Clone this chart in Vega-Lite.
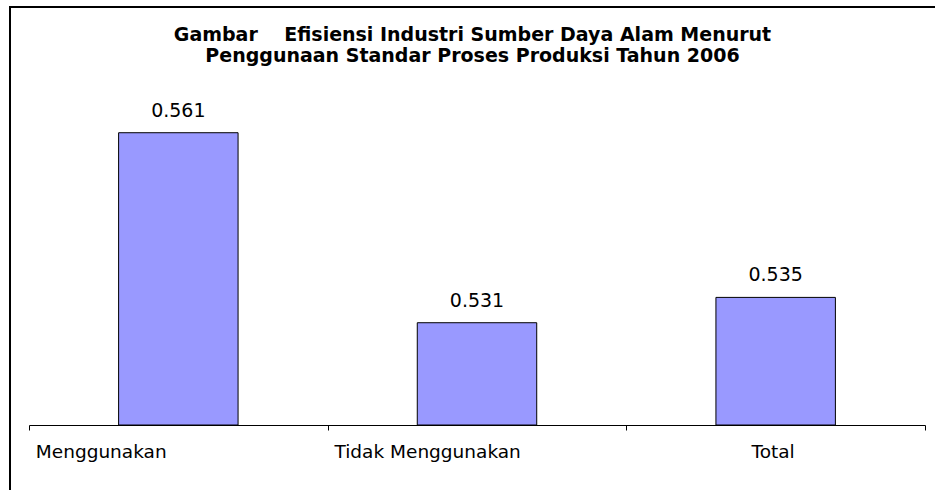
{
  "$schema": "https://vega.github.io/schema/vega-lite/v6.json",
  "width": 925,
  "height": 483,
  "autosize": {"type": "none"},
  "padding": {"left": 10, "top": 7, "right": 0, "bottom": 0},
  "background": "white",
  "config": {
    "view": {"stroke": "black", "strokeWidth": 2, "strokeDash": [925, 1408, 483]}
  },
  "title": {
    "text": ["Gambar\u00a0\u00a0\u00a0 Efisiensi Industri Sumber Daya Alam Menurut", "Penggunaan Standar Proses Produksi Tahun 2006"],
    "anchor": "middle",
    "frame": "group",
    "font": "DejaVu Sans",
    "fontSize": 19,
    "fontWeight": "bold",
    "color": "black",
    "lineHeight": 21,
    "baseline": "alphabetic",
    "offset": -74
  },
  "data": {
    "values": [
      {"kategori": "Menggunakan", "nilai": 0.561},
      {"kategori": "Tidak Menggunakan", "nilai": 0.531},
      {"kategori": "Total", "nilai": 0.535}
    ]
  },
  "encoding": {
    "x": {
      "field": "kategori",
      "type": "nominal",
      "sort": null,
      "scale": {"type": "band", "range": [19, 915], "paddingInner": 0, "paddingOuter": 0},
      "axis": {
        "title": null,
        "orient": "bottom",
        "offset": -65,
        "domainColor": "black",
        "domainWidth": 1,
        "tickColor": "black",
        "tickSize": 5,
        "tickBand": "extent",
        "grid": false,
        "labelFont": "DejaVu Sans",
        "labelFontSize": 18.5,
        "labelColor": "black",
        "labelAngle": 0,
        "labelBaseline": "alphabetic",
        "labelPadding": 27,
        "labelOverlap": false,
        "labelLimit": 0,
        "labelAlign": {"condition": {"test": "datum.value === 'Total'", "value": "center"}, "value": "left"},
        "labelOffset": {"condition": {"test": "datum.value === 'Total'", "value": -3}, "value": -143}
      }
    },
    "y": {
      "field": "nilai",
      "type": "quantitative",
      "scale": {"domain": [0.50459, 0.58085], "zero": false, "nice": false},
      "axis": null
    }
  },
  "layer": [
    {
      "mark": {"type": "bar", "fill": "#9999FF", "stroke": "black", "strokeWidth": 1, "width": {"band": 0.4}},
      "encoding": {"y2": {"datum": 0.51485}}
    },
    {
      "mark": {"type": "text", "baseline": "alphabetic", "dy": -16, "font": "DejaVu Sans", "fontSize": 19, "fill": "black"},
      "encoding": {"text": {"field": "nilai", "type": "quantitative", "format": ".3f"}}
    }
  ]
}
